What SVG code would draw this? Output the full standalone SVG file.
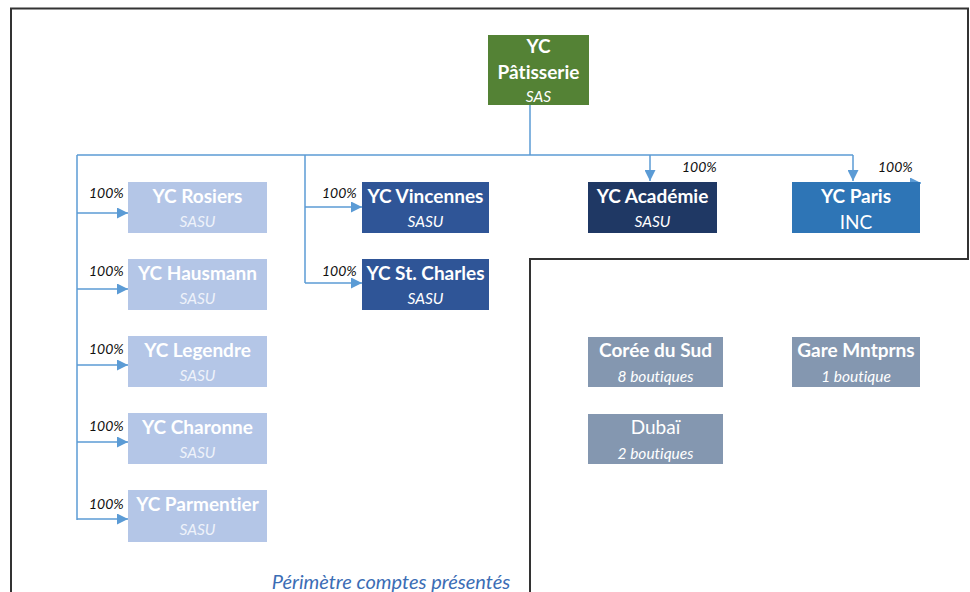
<svg xmlns="http://www.w3.org/2000/svg" width="970" height="592" viewBox="0 0 970 592">
<defs>
<marker id="ah" viewBox="0 0 10 10" refX="10" refY="5" markerWidth="11" markerHeight="11" markerUnits="userSpaceOnUse" orient="auto">
<path d="M0,0 L10,5 L0,10 z" fill="#5b9bd5"/>
</marker>
<style>
text{font-variant-ligatures:none}
.t{font-family:Lato,"Open Sans",sans-serif;font-weight:bold;font-size:19px;fill:#fff;text-anchor:middle}
.s{font-family:Lato,"Open Sans",sans-serif;font-style:italic;font-size:15.5px;fill:#fff;text-anchor:middle}
.sl{font-family:Lato,"Open Sans",sans-serif;font-style:italic;font-size:15.5px;fill:#eef2fa;text-anchor:middle}
.p{font-family:Lato,"Open Sans",sans-serif;font-style:italic;font-size:14px;fill:#111}
.c{fill:none;stroke:#5b9bd5;stroke-width:1.5}
.light{fill:#b4c6e7}
.mid{fill:#2f5597}
.dark{fill:#1f3864}
.blue{fill:#2e75b6}
.grey{fill:#8497b0}
</style>
</defs>
<rect width="970" height="592" fill="#fff"/>
<path d="M11,592 V8.5 H968 V259 H530 V592" fill="none" stroke="#333" stroke-width="2"/>
<g id="connectors">
<path class="c" d="M530,105 V155"/>
<path class="c" d="M77,155 H853"/>
<path class="c" d="M77,155 V520"/>
<path class="c" d="M77,213 H128" marker-end="url(#ah)"/>
<path class="c" d="M77,289 H128" marker-end="url(#ah)"/>
<path class="c" d="M77,365 H128" marker-end="url(#ah)"/>
<path class="c" d="M77,442 H128" marker-end="url(#ah)"/>
<path class="c" d="M77,519 H128" marker-end="url(#ah)"/>
<path class="c" d="M305,155 V283"/>
<path class="c" d="M305,207 H362" marker-end="url(#ah)"/>
<path class="c" d="M305,283 H362" marker-end="url(#ah)"/>
<path class="c" d="M650,155 V181" marker-end="url(#ah)"/>
<path class="c" d="M853,155 V181" marker-end="url(#ah)"/>
<path class="c" d="M900,183 H921" marker-end="url(#ah)"/>
<text class="p" x="89" y="198">100%</text>
<text class="p" x="89" y="276">100%</text>
<text class="p" x="89" y="354">100%</text>
<text class="p" x="89" y="431">100%</text>
<text class="p" x="89" y="509">100%</text>
<text class="p" x="322" y="198">100%</text>
<text class="p" x="322" y="276">100%</text>
<text class="p" x="682" y="172">100%</text>
<text class="p" x="878" y="172">100%</text>
</g>
<g id="patisserie">
<rect x="488" y="35" width="101" height="70" fill="#548235"/>
<text class="t" x="538.5" y="53">YC</text>
<text class="t" x="538.5" y="79">Pâtisserie</text>
<text class="s" x="538.5" y="102">SAS</text>
</g>
<g id="rosiers"><rect class="light" x="128" y="182" width="139" height="51"/><text class="t" x="197.5" y="203">YC Rosiers</text><text class="sl" x="197.5" y="227">SASU</text></g>
<g id="hausmann"><rect class="light" x="128" y="259" width="139" height="51"/><text class="t" x="197.5" y="280">YC Hausmann</text><text class="sl" x="197.5" y="304">SASU</text></g>
<g id="legendre"><rect class="light" x="128" y="336" width="139" height="51"/><text class="t" x="197.5" y="357">YC Legendre</text><text class="sl" x="197.5" y="381">SASU</text></g>
<g id="charonne"><rect class="light" x="128" y="413" width="139" height="51"/><text class="t" x="197.5" y="434">YC Charonne</text><text class="sl" x="197.5" y="458">SASU</text></g>
<g id="parmentier"><rect class="light" x="128" y="490" width="139" height="52"/><text class="t" x="197.5" y="511">YC Parmentier</text><text class="sl" x="197.5" y="535">SASU</text></g>
<g id="vincennes"><rect class="mid" x="362" y="182" width="127" height="51"/><text class="t" x="425.5" y="203">YC Vincennes</text><text class="s" x="425.5" y="227">SASU</text></g>
<g id="stcharles"><rect class="mid" x="362" y="259" width="127" height="51"/><text class="t" x="425.5" y="280">YC St. Charles</text><text class="s" x="425.5" y="304">SASU</text></g>
<g id="academie"><rect class="dark" x="588" y="182" width="129" height="51"/><text class="t" x="652.5" y="203">YC Académie</text><text class="s" x="652.5" y="227">SASU</text></g>
<g id="paris"><rect class="blue" x="792" y="182" width="128" height="51"/><text class="t" x="856" y="203">YC Paris</text><text x="856" y="229" style="font-family:Lato,'Open Sans',sans-serif;font-size:19px;fill:#fff;text-anchor:middle">INC</text></g>
<g id="coree"><rect class="grey" x="588" y="337" width="135" height="50"/><text class="t" x="655.5" y="357">Corée du Sud</text><text class="s" x="655.5" y="382">8 boutiques</text></g>
<g id="gare"><rect class="grey" x="792" y="337" width="128" height="50"/><text class="t" x="856" y="357">Gare Mntprns</text><text class="s" x="856" y="382">1 boutique</text></g>
<g id="dubai"><rect class="grey" x="588" y="414" width="135" height="50"/><text x="655.5" y="434" style="font-family:Lato,'Open Sans',sans-serif;font-size:19px;fill:#fff;text-anchor:middle">Dubaï</text><text class="s" x="655.5" y="459">2 boutiques</text></g>
<text x="391" y="589" style="font-family:Lato,'Open Sans',sans-serif;font-style:italic;font-size:20px;fill:#3b6db5;text-anchor:middle">Périmètre comptes présentés</text>
</svg>
